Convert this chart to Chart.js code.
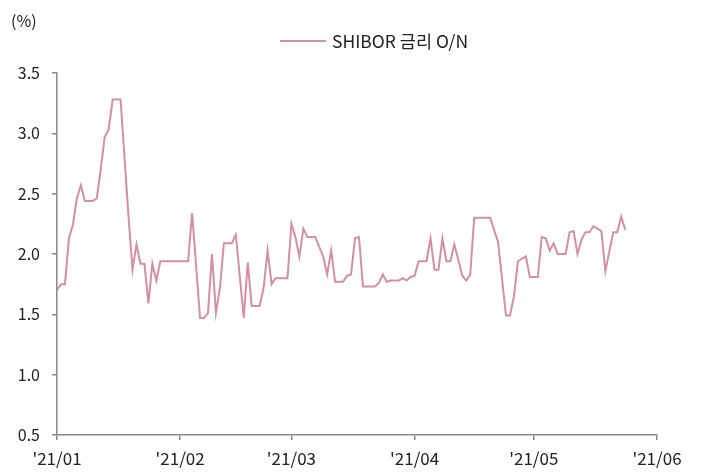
<!DOCTYPE html>
<html>
<head>
<meta charset="utf-8">
<script src="https://cdn.jsdelivr.net/npm/chart.js@4"></script>
<style>
html,body{margin:0;padding:0;background:#fff;}
#wrap{width:704px;height:473px;position:relative;}
</style>
</head>
<body>
<div id="wrap"><canvas id="c" width="704" height="473"></canvas></div>
<script>
const seriesName = 'SHIBOR 금리 O/N';
const unitLabel = '(%)';
const dates = [
'2021-01-01','2021-01-02','2021-01-03','2021-01-04','2021-01-05','2021-01-06','2021-01-07','2021-01-08','2021-01-10','2021-01-11',
'2021-01-12','2021-01-13','2021-01-14','2021-01-15','2021-01-17','2021-01-19','2021-01-20','2021-01-21','2021-01-22','2021-01-23',
'2021-01-24','2021-01-25','2021-01-26','2021-01-27','2021-02-03','2021-02-04','2021-02-06','2021-02-07','2021-02-08','2021-02-09',
'2021-02-10','2021-02-11','2021-02-12','2021-02-14','2021-02-15','2021-02-17','2021-02-18','2021-02-19','2021-02-21','2021-02-22',
'2021-02-23','2021-02-24','2021-02-25','2021-02-28','2021-03-01','2021-03-02','2021-03-03','2021-03-04','2021-03-05','2021-03-07',
'2021-03-08','2021-03-09','2021-03-10','2021-03-11','2021-03-12','2021-03-14','2021-03-15','2021-03-16','2021-03-17','2021-03-18',
'2021-03-19','2021-03-22','2021-03-23','2021-03-24','2021-03-25','2021-03-26','2021-03-28','2021-03-29','2021-03-30','2021-03-31',
'2021-04-01','2021-04-02','2021-04-04','2021-04-05','2021-04-06','2021-04-07','2021-04-08','2021-04-09','2021-04-10','2021-04-11',
'2021-04-13','2021-04-14','2021-04-15','2021-04-16','2021-04-20','2021-04-22','2021-04-24','2021-04-25','2021-04-26','2021-04-27',
'2021-04-29','2021-04-30','2021-05-02','2021-05-03','2021-05-04','2021-05-05','2021-05-06','2021-05-07','2021-05-09','2021-05-10',
'2021-05-11','2021-05-12','2021-05-13','2021-05-14','2021-05-15','2021-05-16','2021-05-18','2021-05-19','2021-05-21','2021-05-22',
'2021-05-23','2021-05-24'
];
const rates = [
1.70,1.75,1.75,2.13,2.24,2.46,2.57,2.44,2.44,2.46,
2.70,2.97,3.03,3.28,3.28,2.31,1.87,2.08,1.92,1.92,
1.59,1.92,1.78,1.94,1.94,2.34,1.47,1.47,1.51,2.00,
1.51,1.72,2.09,2.09,2.16,1.47,1.93,1.57,1.57,1.72,
2.03,1.75,1.80,1.80,2.25,2.14,1.98,2.21,2.14,2.14,
2.06,1.98,1.83,2.03,1.77,1.77,1.82,1.83,2.13,2.14,
1.73,1.73,1.76,1.83,1.77,1.78,1.78,1.80,1.78,1.81,
1.82,1.94,1.94,2.13,1.87,1.87,2.13,1.94,1.94,2.08,
1.82,1.78,1.83,2.30,2.30,2.10,1.49,1.49,1.65,1.94,
1.98,1.81,1.81,2.14,2.13,2.03,2.09,2.00,2.00,2.18,
2.19,2.00,2.12,2.18,2.18,2.23,2.19,1.86,2.18,2.18,
2.31,2.20
];
const tickDates = ['2021-01-01','2021-02-01','2021-03-01','2021-04-01','2021-05-01','2021-06-01'];
const tickLabels = ["'21/01","'21/02","'21/03","'21/04","'21/05","'21/06"];

const origin = Date.parse('2021-01-01T00:00:00Z');
const toDay = d => Math.round((Date.parse(d + 'T00:00:00Z') - origin) / 86400000);
const points = dates.map((d, i) => ({x: toDay(d), y: rates[i]}));
const tickDays = tickDates.map(toDay);

const FONT = "'Noto Sans CJK KR', 'Noto Sans', sans-serif";
const TEXT = '#222';
const AXIS = '#888';
const LINE = '#d58ea6';

const overlay = {
  id: 'overlay',
  afterDraw(chart) {
    const ctx = chart.ctx;
    ctx.save();
    ctx.font = '16px ' + FONT;
    ctx.fillStyle = TEXT;
    ctx.textBaseline = 'middle';
    ctx.textAlign = 'left';
    ctx.fillText(unitLabel, 11, 21);
    const ds = chart.data.datasets[0];
    ctx.strokeStyle = ds.borderColor;
    ctx.lineWidth = 2;
    ctx.beginPath();
    ctx.moveTo(280, 41);
    ctx.lineTo(326, 41);
    ctx.stroke();
    ctx.font = '17.5px ' + FONT;
    ctx.fillText(ds.label, 332, 41);
    ctx.restore();
  }
};

new Chart(document.getElementById('c'), {
  type: 'line',
  data: {
    datasets: [{
      label: seriesName,
      data: points,
      borderColor: LINE,
      borderWidth: 2,
      pointRadius: 0,
      tension: 0,
      fill: false
    }]
  },
  options: {
    responsive: false,
    animation: false,
    layout: {padding: {top: 73, right: 47, left: 0, bottom: 0}},
    plugins: {legend: {display: false}, tooltip: {enabled: false}},
    scales: {
      x: {
        type: 'linear',
        min: tickDays[0],
        max: tickDays[tickDays.length - 1],
        afterBuildTicks: s => { s.ticks = tickDays.map(v => ({value: v})); },
        afterFit: s => { s.height = 38; },
        ticks: {
          callback: (v) => { const i = tickDays.indexOf(v); return i >= 0 ? tickLabels[i] : ''; },
          font: {family: FONT, size: 17},
          color: TEXT,
          padding: 8,
          maxRotation: 0,
          autoSkip: false
        },
        grid: {display: true, drawOnChartArea: false, drawTicks: true, tickLength: 5, color: AXIS, lineWidth: 1.5},
        border: {display: true, color: AXIS, width: 1.5}
      },
      y: {
        min: 0.5,
        max: 3.5,
        afterFit: s => { s.width = 57; },
        ticks: {
          stepSize: 0.5,
          callback: v => v.toFixed(1),
          font: {family: FONT, size: 16},
          color: TEXT,
          padding: 12
        },
        grid: {display: true, drawOnChartArea: false, drawTicks: true, tickLength: 5, color: AXIS, lineWidth: 1.5},
        border: {display: true, color: AXIS, width: 1.5}
      }
    }
  },
  plugins: [overlay]
});
</script>
</body>
</html>
